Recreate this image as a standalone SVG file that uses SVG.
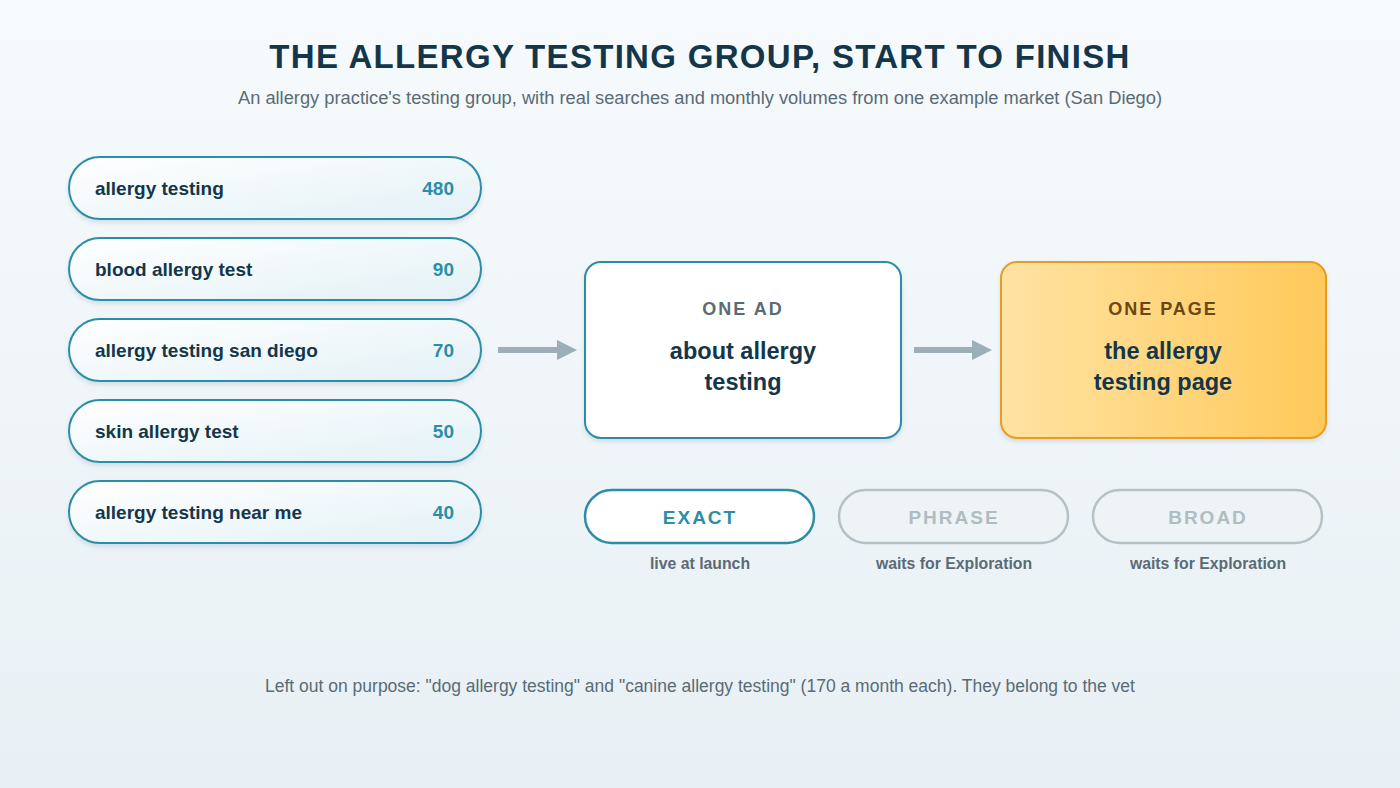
<svg xmlns="http://www.w3.org/2000/svg" width="1400" height="788" viewBox="0 0 1400 788">
<defs>
<linearGradient id="bg" x1="0" y1="0" x2="0" y2="1"><stop offset="0" stop-color="#f6fafc"/><stop offset="1" stop-color="#e8f0f5"/></linearGradient>
<linearGradient id="pillg" x1="0" y1="0" x2="1" y2="1"><stop offset="0" stop-color="#ffffff"/><stop offset="1" stop-color="#e3f1f6"/></linearGradient>
<linearGradient id="pageg" x1="0" y1="0" x2="1" y2="0"><stop offset="0" stop-color="#ffe3a3"/><stop offset="1" stop-color="#ffc95a"/></linearGradient>
<filter id="sh" x="-10%" y="-20%" width="120%" height="150%"><feDropShadow dx="0" dy="3" stdDeviation="2" flood-color="#5a7a8a" flood-opacity="0.18"/></filter>
<style>
.kw{fill:url(#pillg);stroke:#2a8ea8;stroke-width:2;filter:url(#sh)}
.kt{font-family:"Liberation Sans",Arial,sans-serif;font-weight:bold;font-size:19px;fill:#14364a}
.kn{font-family:"Liberation Sans",Arial,sans-serif;font-weight:bold;font-size:19px;fill:#2a8ea8;text-anchor:end}
.lab{font-family:"Liberation Sans",Arial,sans-serif;font-weight:bold;font-size:18px;letter-spacing:2px;text-anchor:middle}
.big{font-family:"Liberation Sans",Arial,sans-serif;font-weight:bold;font-size:23.5px;fill:#14364a;text-anchor:middle}
.cap{font-family:"Liberation Sans",Arial,sans-serif;font-weight:bold;font-size:15.8px;fill:#5a6b75;text-anchor:middle}
.mt{font-family:"Liberation Sans",Arial,sans-serif;font-weight:bold;font-size:19px;letter-spacing:2px;text-anchor:middle}
.conn{stroke:#9aafb7;stroke-width:6;fill:none}
.head{fill:#9aafb7}
</style>
</defs>
<rect width="1400" height="788" fill="url(#bg)"/>
<g id="title">
<text x="700" y="68" text-anchor="middle" font-family="Liberation Sans, Arial, sans-serif" font-weight="bold" font-size="33" letter-spacing="1.3" fill="#14364a">THE ALLERGY TESTING GROUP, START TO FINISH</text>
<text x="700" y="104" text-anchor="middle" font-family="Liberation Sans, Arial, sans-serif" font-size="18.3" fill="#5a6b75">An allergy practice's testing group, with real searches and monthly volumes from one example market (San Diego)</text>
</g>
<g id="kw1"><rect class="kw" x="69" y="157" width="412" height="62" rx="31"/><text class="kt" x="95" y="195">allergy testing</text><text class="kn" x="454" y="195">480</text></g>
<g id="kw2"><rect class="kw" x="69" y="238" width="412" height="62" rx="31"/><text class="kt" x="95" y="276">blood allergy test</text><text class="kn" x="454" y="276">90</text></g>
<g id="kw3"><rect class="kw" x="69" y="319" width="412" height="62" rx="31"/><text class="kt" x="95" y="357">allergy testing san diego</text><text class="kn" x="454" y="357">70</text></g>
<g id="kw4"><rect class="kw" x="69" y="400" width="412" height="62" rx="31"/><text class="kt" x="95" y="438">skin allergy test</text><text class="kn" x="454" y="438">50</text></g>
<g id="kw5"><rect class="kw" x="69" y="481" width="412" height="62" rx="31"/><text class="kt" x="95" y="519">allergy testing near me</text><text class="kn" x="454" y="519">40</text></g>
<g id="connectors">
<line class="conn" x1="498" y1="350" x2="560" y2="350"/><polygon class="head" points="557,340 577,350 557,360"/>
<line class="conn" x1="914" y1="350" x2="975" y2="350"/><polygon class="head" points="972,340 992,350 972,360"/>
</g>
<g id="ad"><rect x="585" y="262" width="316" height="176" rx="16" fill="#ffffff" stroke="#2a8ea8" stroke-width="2" filter="url(#sh)"/>
<text class="lab" x="743" y="315" fill="#5a6b75">ONE AD</text>
<text class="big" x="743" y="359">about allergy</text><text class="big" x="743" y="390">testing</text></g>
<g id="page"><rect x="1001" y="262" width="325" height="176" rx="16" fill="url(#pageg)" stroke="#e89c22" stroke-width="2" filter="url(#sh)"/>
<text class="lab" x="1163" y="315" fill="#6b4712">ONE PAGE</text>
<text class="big" x="1163" y="359">the allergy</text><text class="big" x="1163" y="390">testing page</text></g>
<g id="exact"><rect x="585" y="490" width="229" height="53" rx="26.5" fill="#ffffff" stroke="#2a8ea8" stroke-width="2.5"/><text class="mt" x="700" y="524" fill="#2a8ea8">EXACT</text><text class="cap" x="700" y="569">live at launch</text></g>
<g id="phrase"><rect x="839" y="490" width="229" height="53" rx="26.5" fill="#eef3f5" stroke="#b4c1c7" stroke-width="2.5"/><text class="mt" x="954" y="524" fill="#aebcc3">PHRASE</text><text class="cap" x="954" y="569">waits for Exploration</text></g>
<g id="broad"><rect x="1093" y="490" width="229" height="53" rx="26.5" fill="#eef3f5" stroke="#b4c1c7" stroke-width="2.5"/><text class="mt" x="1208" y="524" fill="#aebcc3">BROAD</text><text class="cap" x="1208" y="569">waits for Exploration</text></g>
<g id="footnote"><text x="700" y="692" text-anchor="middle" font-family="Liberation Sans, Arial, sans-serif" font-size="17.5" fill="#5a6b75">Left out on purpose: "dog allergy testing" and "canine allergy testing" (170 a month each). They belong to the vet</text></g>
</svg>
